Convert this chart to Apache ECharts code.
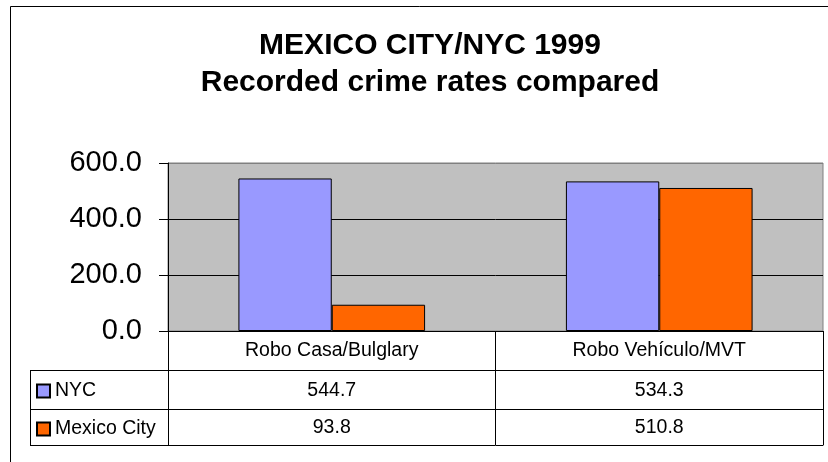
<!DOCTYPE html>
<html>
<head>
<meta charset="utf-8">
<script src="https://cdn.jsdelivr.net/npm/echarts@6/dist/echarts.min.js"></script>
<style>
html,body{margin:0;padding:0;background:#fff;}
#main{width:828px;height:462px;}
</style>
</head>
<body>
<div id="main"></div>
<script>
// ---- data ----
var categories = ['Robo Casa/Bulglary', 'Robo Vehículo/MVT'];
var seriesNames = ['NYC', 'Mexico City'];
var nycValues = [544.7, 534.3];
var mexicoValues = [93.8, 510.8];
var yTicks = [0, 200, 400, 600];

// ---- layout ----
var FONT = '"Liberation Sans", Arial, sans-serif';
var gridLeft = 168, gridRight = 5, gridTop = 163, gridBottom = 131;
var rowH = [39, 39, 36];
var tableLeft = 30;
var W = 828, H = 462;

var chart = echarts.init(document.getElementById('main'), null, {renderer: 'canvas'});

function valueAxisRow(offset, tickLen, labelFn, margin) {
  return {
    type: 'category',
    data: categories,
    position: 'bottom',
    offset: offset,
    boundaryGap: true,
    axisLine: {show: true, lineStyle: {color: '#000', width: 1}},
    axisTick: {show: tickLen > 0, length: tickLen, inside: false, interval: 0, lineStyle: {color: '#000', width: 1}},
    axisLabel: {
      show: !!labelFn, interval: 0, margin: margin,
      fontFamily: FONT, fontSize: 19.5, color: '#000',
      formatter: labelFn || function(){return '';}
    },
    splitLine: {show: false}
  };
}

var plotBottom = H - gridBottom;
var y1 = plotBottom + rowH[0], y2 = y1 + rowH[1], y3 = y2 + rowH[2];

var option = {
  backgroundColor: '#fff',
  animation: false,
  title: {
    text: 'MEXICO CITY/NYC 1999\nRecorded crime rates compared',
    left: 425, textAlign: 'center',
    top: 22,
    textStyle: {fontFamily: FONT, fontSize: 30, fontWeight: 'bold', color: '#000', lineHeight: 37}
  },
  legend: {
    orient: 'vertical',
    left: 36, top: 381, padding: 0,
    itemWidth: 13, itemHeight: 13, itemGap: 18, itemGap2: 0,
    icon: 'rect',
    data: seriesNames,
    textStyle: {fontFamily: FONT, fontSize: 19.5, color: '#000', lineHeight: 19, padding: [0, 0, 0, 0]},
    selectedMode: false
  },
  grid: {
    left: gridLeft, right: gridRight, top: gridTop, bottom: gridBottom,
    show: true, backgroundColor: '#C0C0C0', borderColor: '#808080', borderWidth: 1,
    containLabel: false
  },
  xAxis: [
    valueAxisRow(0, rowH[0], function(v){return v;}, 10),
    valueAxisRow(rowH[0], rowH[1], function(v, i){return nycValues[i].toFixed(1);}, 11),
    valueAxisRow(rowH[0] + rowH[1], rowH[2], function(v, i){return mexicoValues[i].toFixed(1);}, 9),
    valueAxisRow(rowH[0] + rowH[1] + rowH[2], 0, null, 0)
  ],
  yAxis: {
    type: 'value', min: yTicks[0], max: yTicks[yTicks.length - 1], interval: 200,
    axisLine: {show: true, lineStyle: {color: '#000', width: 1}},
    axisTick: {show: true, length: 9, inside: false, lineStyle: {color: '#000'}},
    axisLabel: {
      margin: 26, fontFamily: FONT, fontSize: 29, color: '#000',
      formatter: function(v){return v.toFixed(1);}
    },
    splitLine: {show: true, lineStyle: {color: ['#000', '#000', '#000', '#808080'], width: 1}}
  },
  series: [
    {
      name: seriesNames[0], type: 'bar', xAxisIndex: 0, data: nycValues,
      barGap: '0%', barCategoryGap: '43%',
      itemStyle: {color: '#9999FF', borderColor: '#000', borderWidth: 1}
    },
    {
      name: seriesNames[1], type: 'bar', xAxisIndex: 0, data: mexicoValues,
      barGap: '0%', barCategoryGap: '43%',
      itemStyle: {color: '#FF6600', borderColor: '#000', borderWidth: 1}
    }
  ],
  graphic: [
    // outer chart frame (top and left edges)
    {type: 'line', shape: {x1: 10.5, y1: 6.5, x2: W, y2: 6.5}, style: {stroke: '#000', lineWidth: 1}, silent: true},
    {type: 'line', shape: {x1: 10.5, y1: 6.5, x2: 10.5, y2: H}, style: {stroke: '#000', lineWidth: 1}, silent: true},
    // legend column of data table
    {type: 'line', shape: {x1: tableLeft + 0.5, y1: y1, x2: tableLeft + 0.5, y2: y3}, style: {stroke: '#000', lineWidth: 1}, silent: true},
    {type: 'line', shape: {x1: tableLeft, y1: y1 + 0.5, x2: gridLeft, y2: y1 + 0.5}, style: {stroke: '#000', lineWidth: 1}, silent: true},
    {type: 'line', shape: {x1: tableLeft, y1: y2 + 0.5, x2: gridLeft, y2: y2 + 0.5}, style: {stroke: '#000', lineWidth: 1}, silent: true},
    {type: 'line', shape: {x1: tableLeft, y1: y3 + 0.5, x2: gridLeft, y2: y3 + 0.5}, style: {stroke: '#000', lineWidth: 1}, silent: true},
    {type: 'line', shape: {x1: gridLeft + 0.5, y1: y1, x2: gridLeft + 0.5, y2: y3}, style: {stroke: '#000', lineWidth: 1}, silent: true}
  ]
};
chart.setOption(option);
</script>
</body>
</html>
